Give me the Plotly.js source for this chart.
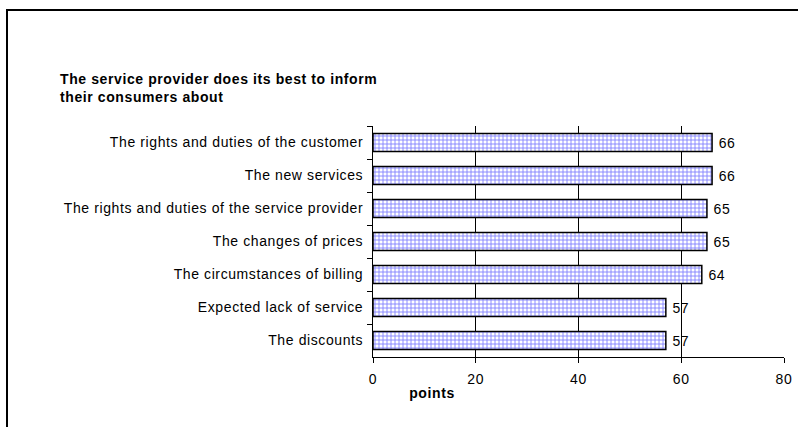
<!DOCTYPE html>
<html>
<head>
<meta charset="utf-8">
<script src="https://cdn.plot.ly/plotly-3.0.1.min.js"></script>
<style>html,body{margin:0;padding:0;background:#fff;}#chart{width:798px;height:427px;}
#chart text{letter-spacing:0.6px;}</style>
</head>
<body>
<div id="chart"></div>
<script>
const categories = [
  "The rights and duties of the customer",
  "The new services",
  "The rights and duties of the service provider",
  "The changes of prices",
  "The circumstances of billing",
  "Expected lack of service",
  "The discounts"
];
const values = [66, 66, 65, 65, 64, 57, 57];
const xTicks = [0, 20, 40, 60, 80];
const gridTicks = [20, 40, 60];
const chartTitle = "The service provider does its best to inform<br>their consumers about";
const xTitle = "points";

const W = 798, H = 427;
const L = 373, R = 784, T = 126, B = 357;
const pw = R - L, ph = B - T;
const px = x => (x - L) / pw;
const py = y => (B - y) / ph;

const font = "Arial, 'Liberation Sans', sans-serif";

const trace = {
  type: "bar",
  orientation: "h",
  y: categories,
  x: values,
  text: values.map(v => "\u00a0" + v),
  textposition: "outside",
  cliponaxis: false,
  textfont: {family: font, size: 14, color: "#000"},
  hoverinfo: "none",
  marker: {
    color: "#ffffff",
    line: {color: "#000", width: 1.5},
    pattern: {shape: "+", fgcolor: "#8080ff", bgcolor: "#ffffff", size: 4, solidity: 0.4, fillmode: "replace"}
  }
};

// invisible helper so the labelled overlay axis (x2) is drawn
const axisHelper = {
  type: "scatter",
  mode: "markers",
  x: values,
  y: categories,
  xaxis: "x2",
  yaxis: "y",
  marker: {opacity: 0, size: 1},
  hoverinfo: "skip",
  showlegend: false
};

const layout = {
  width: W, height: H,
  margin: {l: L, r: W - R, t: T, b: H - B, pad: 0},
  paper_bgcolor: "#fff",
  plot_bgcolor: "#fff",
  showlegend: false,
  bargap: 0.45,
  font: {family: font, size: 14, color: "#000"},
  title: {
    text: "<b>" + chartTitle.replace("<br>", "</b><br><b>") + "</b>",
    x: 60 / W, xref: "container", xanchor: "left",
    y: 1 - 84 / H, yref: "container", yanchor: "top",
    font: {family: font, size: 14, color: "#000"}
  },
  xaxis: {
    type: "linear",
    range: [0, 80],
    tickmode: "array",
    tickvals: gridTicks,
    showticklabels: false,
    ticks: "",
    showgrid: true, gridcolor: "#000", gridwidth: 1,
    zeroline: false,
    showline: true, linecolor: "#000", linewidth: 1,
    fixedrange: true
  },
  xaxis2: {
    type: "linear",
    overlaying: "x",
    anchor: "y",
    side: "bottom",
    range: [0, 80],
    tickmode: "array",
    tickvals: xTicks,
    ticktext: xTicks.map(String),
    showgrid: false,
    zeroline: false, showline: false,
    ticks: "outside", ticklen: 5, tickcolor: "#000",
    ticklabelstandoff: 4,
    tickfont: {family: font, size: 14, color: "#000"},
    fixedrange: true
  },
  yaxis: {
    type: "category",
    autorange: "reversed",
    showgrid: false, zeroline: false,
    showline: true, linecolor: "#000", linewidth: 1,
    ticks: "outside", tickson: "boundaries", ticklen: 5, tickcolor: "#000",
    ticklabelstandoff: 6,
    tickfont: {family: font, size: 14, color: "#000"},
    fixedrange: true
  },
  annotations: [{
    text: "<b>" + xTitle + "</b>",
    xref: "paper", yref: "paper",
    x: px(432), y: py(393), xanchor: "center", yanchor: "middle",
    showarrow: false,
    font: {family: font, size: 14, color: "#000"}
  }],
  shapes: [{
    type: "rect", xref: "paper", yref: "paper",
    x0: px(7), x1: px(840), y0: py(460), y1: py(10),
    line: {color: "#000", width: 2}, fillcolor: "rgba(0,0,0,0)", layer: "above"
  }]
};

Plotly.newPlot("chart", [trace, axisHelper], layout, {displayModeBar: false, staticPlot: true});
</script>
</body>
</html>
